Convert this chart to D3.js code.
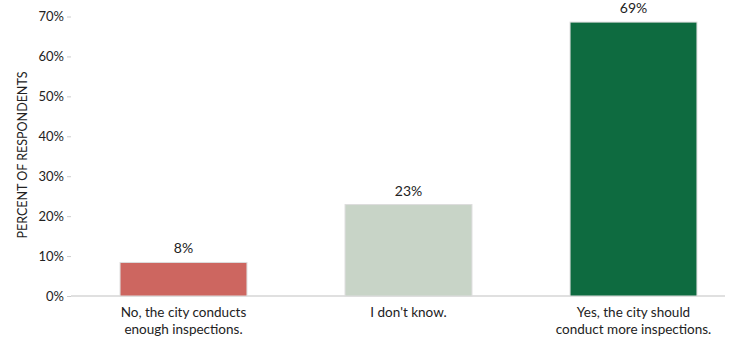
<!DOCTYPE html>
<html>
<head>
<meta charset="utf-8">
<script src="https://cdn.jsdelivr.net/npm/d3@7"></script>
<style>
  body { margin: 0; background: #fff; }
  text { font-family: Lato, "Open Sans", sans-serif; fill: #222; }
</style>
</head>
<body>
<div id="chart"></div>
<script>
// data
var categories = ["No, the city conducts|enough inspections.", "I don't know.", "Yes, the city should|conduct more inspections."];
var values = [8.4, 22.9, 68.6];
var valueLabels = ["8%", "23%", "69%"];
var barColors = ["#cd6660", "#c8d4c7", "#0e6b40"];
var yTicks = [0, 10, 20, 30, 40, 50, 60, 70];

const width = 734, height = 343;
const svg = d3.select("#chart").append("svg")
    .attr("width", width)
    .attr("height", height);

const x = d3.scaleBand()
    .domain(categories)
    .range([71, 746])
    .paddingInner(0.436)
    .paddingOuter(0.218);

const y = d3.scaleLinear()
    .domain([0, 70])
    .range([296, 16.5]);

// y axis labels
svg.append("g")
    .attr("transform", "translate(71,0)")
    .call(d3.axisLeft(y).tickValues(yTicks).tickFormat(d => d + "%").tickSize(4))
    .call(g => g.select(".domain").remove())
    .call(g => g.selectAll(".tick line").attr("stroke", "#ccc"))
    .call(g => g.selectAll("text").attr("font-size", "13px").attr("fill", "#333"));

// baseline
svg.append("line")
    .attr("x1", 71).attr("x2", 725)
    .attr("y1", y(0)).attr("y2", y(0))
    .attr("stroke", "#d6d6d6")
    .attr("stroke-width", 1.5);

// bars
svg.selectAll(".bar")
    .data(values)
    .enter()
    .append("rect")
    .attr("class", "bar")
    .attr("x", (d, i) => x(categories[i]))
    .attr("y", d => y(d))
    .attr("width", x.bandwidth())
    .attr("height", d => y(0) - y(d))
    .attr("fill", (d, i) => barColors[i])
    .attr("stroke", "#dcdcdc")
    .attr("stroke-width", 1);

// value labels
svg.selectAll(".vlabel")
    .data(values)
    .enter()
    .append("text")
    .attr("class", "vlabel")
    .attr("x", (d, i) => x(categories[i]) + x.bandwidth() / 2)
    .attr("y", d => y(d) - 9)
    .attr("text-anchor", "middle")
    .attr("font-size", "14px")
    .text((d, i) => valueLabels[i]);

// category labels (two lines)
var cat = svg.selectAll(".clabel")
    .data(categories)
    .enter()
    .append("text")
    .attr("class", "clabel")
    .attr("text-anchor", "middle")
    .attr("font-size", "13.5px")
    .attr("fill", "#222");
cat.each(function (d) {
    var lines = d.split("|");
    var cx = x(d) + x.bandwidth() / 2;
    d3.select(this).selectAll("tspan")
        .data(lines)
        .enter()
        .append("tspan")
        .attr("x", cx)
        .attr("y", (l, j) => 317 + j * 17)
        .text(l => l);
});

// y axis title
svg.append("text")
    .attr("transform", "translate(27,155) rotate(-90)")
    .attr("text-anchor", "middle")
    .attr("font-size", "12.5px")
    .attr("fill", "#333")
    .text("PERCENT OF RESPONDENTS");
</script>
</body>
</html>
